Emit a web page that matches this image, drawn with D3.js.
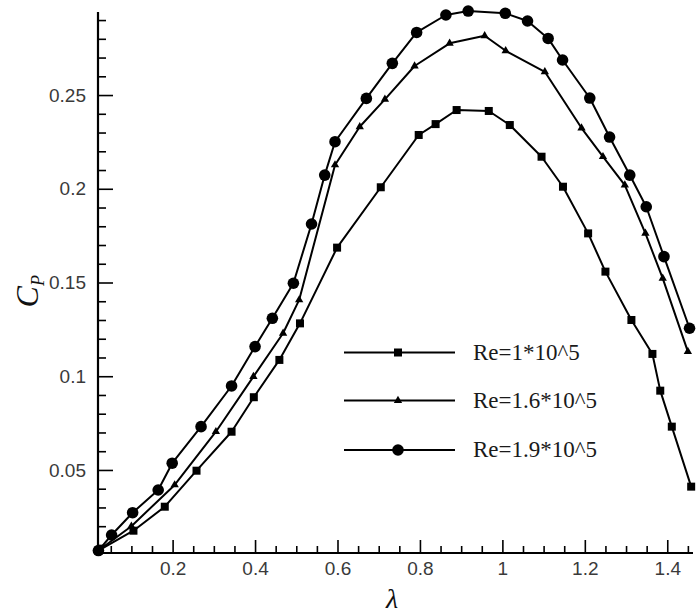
<!DOCTYPE html>
<html>
<head>
<meta charset="utf-8">
<script src="https://cdn.jsdelivr.net/npm/d3@7"></script>
<style>
  html, body { margin: 0; padding: 0; background: #fff; }
  svg { display: block; }
</style>
</head>
<body>
<svg id="chart" width="697" height="616"></svg>
<script>
// ---- data ----
const seriesNames = ["Re=1*10^5", "Re=1.6*10^5", "Re=1.9*10^5"];
const seriesMarkers = ["square", "triangle", "circle"];

const lambdaRe1 = [0.02, 0.105, 0.181, 0.258, 0.343, 0.397, 0.459, 0.509, 0.599, 0.705, 0.797, 0.838, 0.889, 0.967, 1.018, 1.095, 1.147, 1.208, 1.250, 1.313, 1.364, 1.383, 1.411, 1.458];
const cpRe1     = [0.007, 0.0176, 0.0304, 0.0496, 0.0704, 0.0888, 0.1087, 0.1282, 0.1686, 0.2008, 0.2287, 0.2345, 0.2420, 0.2415, 0.2340, 0.2171, 0.2011, 0.1762, 0.1558, 0.1300, 0.1119, 0.0923, 0.0731, 0.0411];

const lambdaRe16 = [0.02, 0.100, 0.205, 0.305, 0.396, 0.468, 0.507, 0.594, 0.654, 0.715, 0.787, 0.872, 0.957, 1.008, 1.103, 1.192, 1.244, 1.297, 1.347, 1.389, 1.450];
const cpRe16     = [0.007, 0.0200, 0.0420, 0.0704, 0.0998, 0.1229, 0.1407, 0.2127, 0.2331, 0.2477, 0.2655, 0.2776, 0.2816, 0.2736, 0.2624, 0.2324, 0.2171, 0.2020, 0.1762, 0.1522, 0.1131];

const lambdaRe19 = [0.02, 0.052, 0.103, 0.165, 0.199, 0.269, 0.343, 0.400, 0.442, 0.493, 0.537, 0.569, 0.594, 0.670, 0.733, 0.792, 0.863, 0.917, 1.007, 1.061, 1.111, 1.146, 1.212, 1.260, 1.309, 1.349, 1.392, 1.454];
const cpRe19     = [0.007, 0.0153, 0.0272, 0.0393, 0.0536, 0.0731, 0.0948, 0.1158, 0.1309, 0.1496, 0.1812, 0.2073, 0.2251, 0.2482, 0.2669, 0.2834, 0.2927, 0.2948, 0.2936, 0.2895, 0.2802, 0.2687, 0.2484, 0.2276, 0.2073, 0.1904, 0.1638, 0.1256];

const xMajorTicks = [0.2, 0.4, 0.6, 0.8, 1, 1.2, 1.4];
const xTickLabels = ["0.2", "0.4", "0.6", "0.8", "1", "1.2", "1.4"];
const yMajorTicks = [0.05, 0.1, 0.15, 0.2, 0.25];
const yTickLabels = ["0.05", "0.1", "0.15", "0.2", "0.25"];

// ---- layout ----
const svg = d3.select("#chart");
const x = d3.scaleLinear().domain([0.019, 1.46]).range([98, 692]);
const y = d3.scaleLinear().domain([0.0057, 0.2943]).range([553, 12]);
const x0 = x.range()[0], y0 = y.range()[0];

const series = [
  { name: seriesNames[0], marker: seriesMarkers[0], pts: lambdaRe1.map((l, i) => [l, cpRe1[i]]) },
  { name: seriesNames[1], marker: seriesMarkers[1], pts: lambdaRe16.map((l, i) => [l, cpRe16[i]]) },
  { name: seriesNames[2], marker: seriesMarkers[2], pts: lambdaRe19.map((l, i) => [l, cpRe19[i]]) }
];

// minor ticks
const xMinor = d3.range(0.05, 1.46, 0.05).filter(v => !xMajorTicks.some(t => Math.abs(t - v) < 1e-6));
const yMinor = d3.range(0.01, 0.2943, 0.01).filter(v => !yMajorTicks.some(t => Math.abs(t - v) < 1e-6));

const tickColor = "#000";
const labelColor = "#3a3a3a";
const labelFont = "Liberation Sans, Arial, sans-serif";

const xAxisMinor = d3.axisBottom(x).tickValues(xMinor).tickSizeInner(-7).tickSizeOuter(0).tickFormat("");
const xAxisMajor = d3.axisBottom(x).tickValues(xMajorTicks).tickSizeInner(-13).tickSizeOuter(0).tickPadding(9)
  .tickFormat((d, i) => xTickLabels[i]);
const yAxisMinor = d3.axisLeft(y).tickValues(yMinor).tickSizeInner(-8).tickSizeOuter(0).tickFormat("");
const yAxisMajor = d3.axisLeft(y).tickValues(yMajorTicks).tickSizeInner(-15).tickSizeOuter(0).tickPadding(12)
  .tickFormat((d, i) => yTickLabels[i]);

function styleAxis(g) {
  g.select(".domain").remove();
  g.selectAll("line").attr("stroke", tickColor).attr("stroke-width", 1.6);
  g.selectAll("text").attr("fill", labelColor).style("font-family", labelFont).style("font-size", "19px");
}

svg.append("g").attr("transform", `translate(0,${y0})`).call(xAxisMinor).call(styleAxis);
svg.append("g").attr("transform", `translate(0,${y0})`).call(xAxisMajor).call(styleAxis);
svg.append("g").attr("transform", `translate(${x0},0)`).call(yAxisMinor).call(styleAxis);
svg.append("g").attr("transform", `translate(${x0},0)`).call(yAxisMajor).call(styleAxis);

// axis lines
svg.append("line").attr("x1", x0).attr("x2", x0).attr("y1", y.range()[1]).attr("y2", y0)
  .attr("stroke", "#000").attr("stroke-width", 2.2);
svg.append("line").attr("x1", x0).attr("x2", x.range()[1] + 1).attr("y1", y0).attr("y2", y0)
  .attr("stroke", "#000").attr("stroke-width", 2.2);

// axis titles
svg.append("text").attr("x", x((x.domain()[0] + x.domain()[1]) / 2) - 3).attr("y", 608)
  .attr("text-anchor", "middle")
  .style("font-family", "Liberation Serif, Times New Roman, serif").style("font-style", "italic")
  .style("font-size", "28px").attr("fill", "#111").text("λ");

const yt = svg.append("text").attr("transform", `translate(38,${y(0.14) - 10}) rotate(-90)`)
  .attr("text-anchor", "middle")
  .style("font-family", "Liberation Serif, Times New Roman, serif").style("font-style", "italic")
  .attr("fill", "#111");
yt.append("tspan").style("font-size", "32px").text("C");
yt.append("tspan").style("font-size", "18px").attr("dy", 6).text("P");

// lines
const line = d3.line().x(d => x(d[0])).y(d => y(d[1]));
const gSeries = svg.append("g");
series.forEach(s => {
  gSeries.append("path").datum(s.pts).attr("d", line)
    .attr("fill", "none").attr("stroke", "#000").attr("stroke-width", 2).attr("stroke-linejoin", "round");
});

function drawMarker(g, type, cx, cy) {
  if (type === "square") {
    g.append("rect").attr("x", cx - 4).attr("y", cy - 4).attr("width", 8).attr("height", 8).attr("fill", "#000");
  } else if (type === "triangle") {
    const sym = d3.symbol().type(d3.symbolTriangle).size(30);
    g.append("path").attr("d", sym()).attr("transform", `translate(${cx},${cy})`).attr("fill", "#000");
  } else {
    g.append("circle").attr("cx", cx).attr("cy", cy).attr("r", 5.8).attr("fill", "#000");
  }
}

series.forEach(s => {
  const g = svg.append("g");
  s.pts.forEach(p => drawMarker(g, s.marker, x(p[0]), y(p[1])));
});

// legend
const legendRows = [352.5, 400.5, 450];
const legend = svg.append("g");
series.forEach((s, i) => {
  const ly = legendRows[i];
  legend.append("line").attr("x1", 344).attr("x2", 455).attr("y1", ly).attr("y2", ly)
    .attr("stroke", "#000").attr("stroke-width", 2);
  drawMarker(legend, s.marker, 398, ly);
  legend.append("text").attr("x", 473).attr("y", ly + 7)
    .style("font-family", "Liberation Serif, Times New Roman, serif").style("font-size", "23px")
    .attr("fill", "#1a1a1a").text(s.name);
});
</script>
</body>
</html>
